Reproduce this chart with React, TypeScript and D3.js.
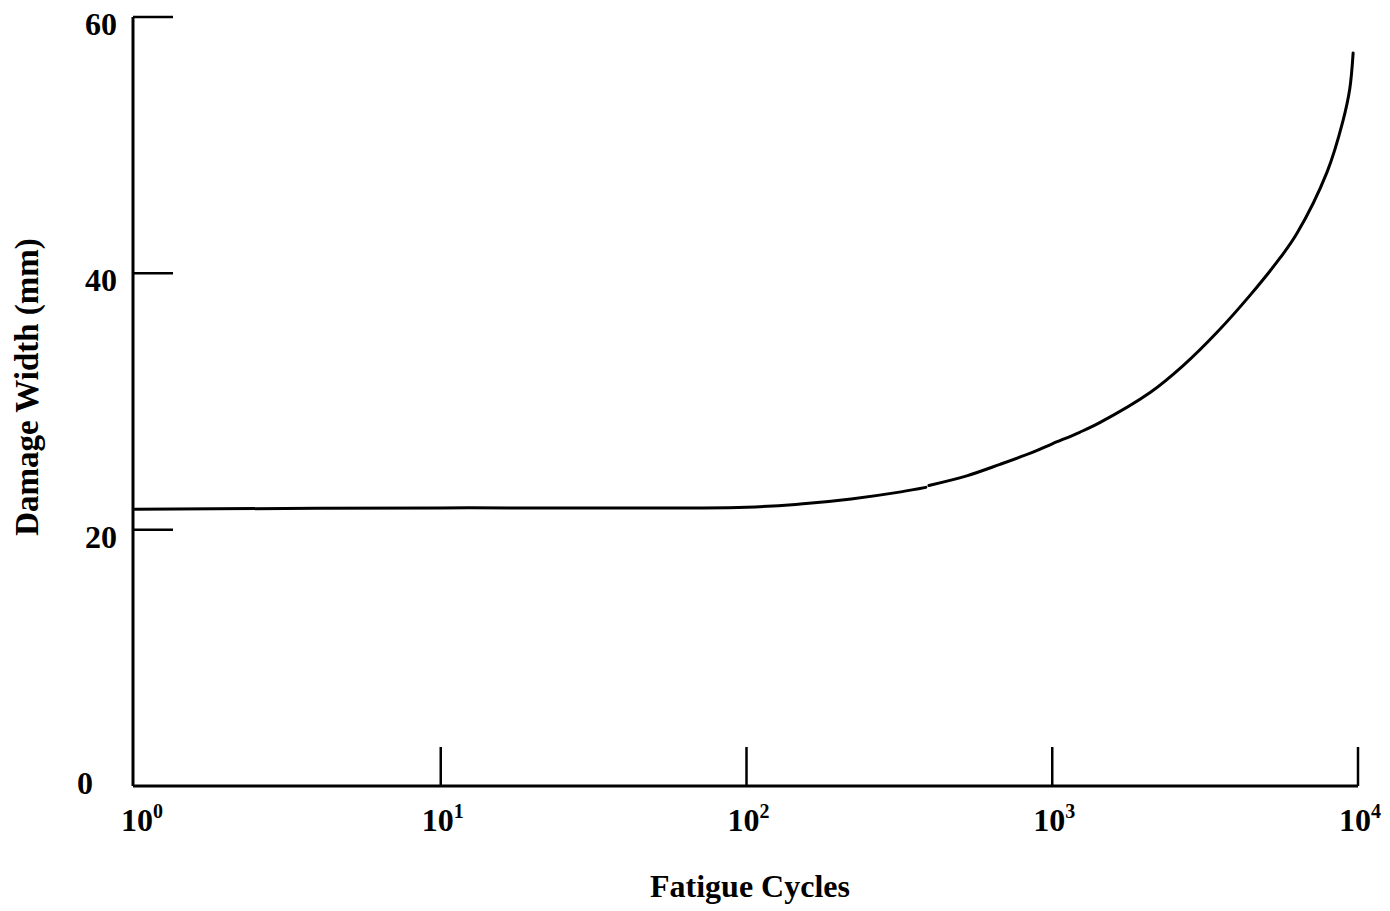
import React from "react";
import * as d3 from "d3";

// Damage width growth vs. fatigue cycles (log scale)
const cyclesA = [1, 10, 100, 150, 220, 320, 386];
const widthA = [21.6, 21.7, 21.75, 22.0, 22.4, 22.95, 23.3];
const cyclesB = [395, 525, 675, 865, 1000, 1230, 1430, 2090, 2680, 3460, 4440, 5560, 6310, 7920, 8930, 9400, 9640];
const widthB = [23.45, 24.2, 25.1, 26.05, 26.7, 27.6, 28.35, 30.7, 32.8, 35.4, 38.3, 41.2, 43.1, 47.9, 51.9, 54.4, 57.2];

const xTickExps = [0, 1, 2, 3, 4];
const yTicks = [20, 40, 60];

const W = 1390;
const H = 911;
const FONT = "'Liberation Serif', 'Times New Roman', serif";

export default function App() {
  const x = d3.scaleLog().domain([1, 1e4]).range([135, 1358]);
  const y = d3.scaleLinear().domain([0, 60]).range([786, 17]);

  const line = d3
    .line<[number, number]>()
    .x((d) => x(d[0]))
    .y((d) => y(d[1]))
    .curve(d3.curveCatmullRom.alpha(0.5));

  const segA = cyclesA.map((c, i) => [c, widthA[i]] as [number, number]);
  const segB = cyclesB.map((c, i) => [c, widthB[i]] as [number, number]);

  const axisX = 133;
  const y0 = y(0);

  return (
    <svg
      width={W}
      height={H}
      style={{ position: "absolute", left: 0, top: 0, background: "#fff" }}
      fontFamily={FONT}
      fontWeight="bold"
    >
      <rect width={W} height={H} fill="#fff" />

      {/* axes */}
      <line x1={axisX} y1={y(60)} x2={axisX} y2={y0} stroke="#000" strokeWidth={3} />
      <line x1={axisX} y1={y0} x2={x(1e4)} y2={y0} stroke="#000" strokeWidth={3} />

      {/* y ticks (inward) */}
      {yTicks.map((v) => (
        <g key={v}>
          <line x1={axisX} y1={y(v)} x2={axisX + 40} y2={y(v)} stroke="#000" strokeWidth={2.5} />
          <text x={117} y={y(v) + 18} textAnchor="end" fontSize={32} fill="#000">
            {v}
          </text>
        </g>
      ))}
      <text x={93} y={y0 + 8} textAnchor="end" fontSize={32} fill="#000">
        0
      </text>

      {/* x ticks (inward) */}
      {xTickExps.map((e) => {
        const px = x(Math.pow(10, e));
        return (
          <g key={e}>
            {e > 0 && (
              <line x1={px} y1={y0} x2={px} y2={y0 - 39} stroke="#000" strokeWidth={2.5} />
            )}
            <text x={px + (e === 0 ? 7 : 2)} y={831} textAnchor="middle" fontSize={32} fill="#000">
              10
              <tspan fontSize={20} dy={-13}>
                {e}
              </tspan>
            </text>
          </g>
        );
      })}

      {/* curve */}
      <path d={line(segA) ?? ""} fill="none" stroke="#000" strokeWidth={3} strokeLinecap="round" />
      <path d={line(segB) ?? ""} fill="none" stroke="#000" strokeWidth={3} strokeLinecap="round" />

      {/* axis titles */}
      <text x={750} y={897} textAnchor="middle" fontSize={32} fill="#000">
        Fatigue Cycles
      </text>
      <text
        transform={`translate(38, 387) rotate(-90)`}
        textAnchor="middle"
        fontSize={33}
        fill="#000"
      >
        Damage Width (mm)
      </text>
    </svg>
  );
}
